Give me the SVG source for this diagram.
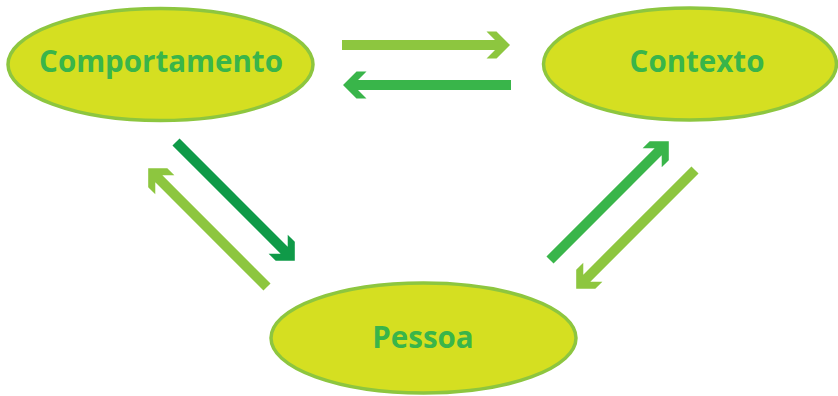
<svg xmlns="http://www.w3.org/2000/svg" xmlns:xlink="http://www.w3.org/1999/xlink" width="838" height="396" viewBox="0 0 838 396">
<style>
.node ellipse{fill:#d5df21;stroke:#8dc63f;stroke-width:3.5}
.node text{font-family:"Open Sans","Noto Sans","Liberation Sans",sans-serif;font-weight:700;font-size:29.5px;fill:#39b54a;text-anchor:middle}
.light{fill:#8dc63f}
.mid{fill:#39b54a}
.dark{fill:#0f9a48}
</style>
<defs>
<path id="arrow" d="M0,-5 L153,-5 L144.5,-13.5 L154.5,-13.5 L168,0 L154.5,13.5 L144.5,13.5 L153,5 L0,5 Z"/>
</defs>
<g id="connectors">
<use xlink:href="#arrow" class="light" transform="translate(342,45)"/>
<use xlink:href="#arrow" class="mid" transform="translate(511,85) rotate(180)"/>
<use xlink:href="#arrow" class="dark" transform="translate(176,142) rotate(45)"/>
<use xlink:href="#arrow" class="light" transform="translate(267,287) rotate(-135)"/>
<use xlink:href="#arrow" class="mid" transform="translate(550,260) rotate(-45)"/>
<use xlink:href="#arrow" class="light" transform="translate(695,170) rotate(135)"/>
</g>
<g id="comportamento" class="node">
<ellipse cx="160.5" cy="64.5" rx="152.5" ry="56"/>
<text x="161" y="72">Comportamento</text>
</g>
<g id="contexto" class="node">
<ellipse cx="690" cy="64" rx="146.5" ry="56"/>
<text x="697" y="72">Contexto</text>
</g>
<g id="pessoa" class="node">
<ellipse cx="423.5" cy="338" rx="152.5" ry="55"/>
<text x="423" y="348">Pessoa</text>
</g>
</svg>
